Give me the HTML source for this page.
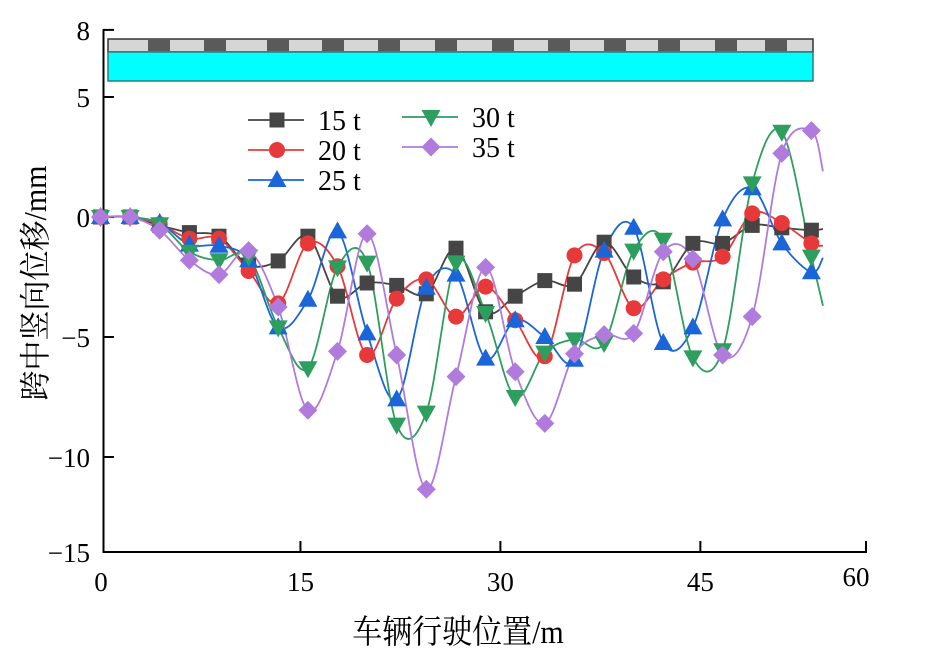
<!DOCTYPE html>
<html><head><meta charset="utf-8"><style>
body{margin:0;background:#fff}
svg text{font-family:"Liberation Serif","Noto Serif CJK SC",serif;fill:#000}
</style></head><body>
<svg id="chart" width="931" height="659" viewBox="0 0 931 659" xmlns="http://www.w3.org/2000/svg">
<g id="bridge">
<rect x="108" y="39" width="705" height="13" fill="#d6d6d6" stroke="#333" stroke-width="1.5"/>
<rect x="108" y="52" width="705" height="29" fill="#00ffff" stroke="#2a7d7d" stroke-width="1.5"/>
</g>
<g id="axes"></g>
<g id="series"></g>
<g id="legend"></g>
<text x="458" y="643" font-size="30" text-anchor="middle" transform="translate(458,643) scale(1,1.1) translate(-458,-643)">车辆行驶位置/m</text>
<text transform="translate(46,283) rotate(-90) scale(1,1.05)" font-size="30" text-anchor="middle">跨中竖向位移/mm</text>
</svg>
<script>
const NS="http://www.w3.org/2000/svg";
const xPositions=[0,2.22,4.44,6.67,8.89,11.11,13.33,15.56,17.78,20,22.22,24.44,26.67,28.89,31.11,33.33,35.56,37.78,40,42.22,44.44,46.67,48.89,51.11,53.33];
const tailX=54.2;
const seriesNames=["15 t","20 t","25 t","30 t","35 t"];
const s15=[0,0,-0.35,-0.65,-0.8,-2.0,-1.83,-0.8,-3.3,-2.75,-2.85,-3.2,-1.3,-3.95,-3.3,-2.65,-2.8,-1.05,-2.5,-2.7,-1.1,-1.1,-0.35,-0.45,-0.55];
const s20=[0,0,-0.3,-0.9,-0.9,-2.25,-3.6,-1.1,-2.05,-5.75,-3.4,-2.6,-4.15,-2.9,-4.3,-5.8,-1.6,-1.5,-3.8,-2.6,-1.9,-1.65,0.15,-0.25,-1.1];
const s25=[0,0,-0.25,-1.15,-1.2,-1.8,-4.6,-3.45,-0.6,-4.85,-7.6,-2.95,-2.4,-5.9,-4.3,-5.0,-5.95,-1.4,-0.45,-5.25,-4.6,-0.1,1.2,-1.1,-2.3];
const s30=[0,0,-0.3,-1.45,-1.8,-1.65,-4.6,-6.3,-2.1,-1.9,-8.65,-8.15,-1.9,-4.0,-7.5,-5.65,-5.1,-5.25,-1.4,-0.95,-5.85,-5.55,1.4,3.55,-1.65];
const s35=[0,0,-0.55,-1.8,-2.4,-1.4,-3.75,-8.05,-5.6,-0.7,-5.75,-11.7,-6.65,-2.1,-6.45,-8.6,-5.7,-4.9,-4.85,-1.45,-1.75,-5.75,-4.15,2.65,3.6];
const tails=[-0.5,-1.2,-1.7,-3.7,1.9];
const yTickVals=[8,5,0,-5,-10,-15];
const xTickVals=[0,15,30,45,60];
const colors=["#454545","#e8393a","#1a66d9","#2e9e5e","#b07bdc"];
const markers=["square","circle","up","down","diamond"];
const seriesData=[s15,s20,s25,s30,s35];

function X(v){ if(v>=57.2) return 866; return 100.5+13.33*v; }
function Y(v){ if(v<=-10) return 457+(-10-v)*19; if(v>5) return 98-(v-5)*22.7; return 217-24*v; }

const axes=document.getElementById('axes');
function el(tag,attrs,parent){const e=document.createElementNS(NS,tag);for(const k in attrs)e.setAttribute(k,attrs[k]);parent.appendChild(e);return e;}
let a=el('line',{x1:103.5,y1:29,x2:103.5,y2:553,stroke:'#000','stroke-width':2},axes);


a=el('line',{x1:103,y1:552,x2:867,y2:552,stroke:'#000','stroke-width':2},axes);


yTickVals.forEach(v=>{
  const y=Y(v);
  if(v!==-15){const t=el('line',{x1:103,y1:y,x2:114,y2:y,stroke:'#000','stroke-width':2},axes);
  
  }
  const tx=el('text',{x:90,y:y+10,'font-size':27,'text-anchor':'end'},axes);
  
  
  tx.textContent=v<0?'\u2212'+(-v):String(v);
});
xTickVals.forEach(v=>{
  const x=v===60?866:X(v);
  if(v!==0){const t=el('line',{x1:x,y1:552,x2:x,y2:541,stroke:'#000','stroke-width':2},axes);
  
  }
  const tx=el('text',{x:v===0?101:(v===60?856:x),y:v===60?586:591,'font-size':27,'text-anchor':'middle'},axes);
  
  
  tx.textContent=String(v);
});
const bridge=document.getElementById('bridge');
const blockStarts=[148,204,267,322,378,435,492,548,604,658,715,765];
blockStarts.forEach(b=>{const r=el('rect',{x:b,y:40,width:22,height:11,fill:'#5a5a5a'},bridge);

});

function marker(type,cx,cy,color,parent){
  let m;
  if(type==='square') m=el('rect',{x:cx-7.5,y:cy-7.5,width:15,height:15,fill:color},parent);
  else if(type==='circle') m=el('circle',{cx:cx,cy:cy,r:8,fill:color},parent);
  else if(type==='up') m=el('polygon',{points:`${cx},${cy-10} ${cx-9.5},${cy+7} ${cx+9.5},${cy+7}`,fill:color},parent);
  else if(type==='down') m=el('polygon',{points:`${cx},${cy+10} ${cx-9.5},${cy-7} ${cx+9.5},${cy-7}`,fill:color},parent);
  else m=el('polygon',{points:`${cx},${cy-9.5} ${cx+9.5},${cy} ${cx},${cy+9.5} ${cx-9.5},${cy}`,fill:color},parent);
  return m;
}
function spline(pts){
  let d=`M${pts[0][0]},${pts[0][1]}`;
  for(let i=0;i<pts.length-1;i++){
    const p0=pts[Math.max(0,i-1)],p1=pts[i],p2=pts[i+1],p3=pts[Math.min(pts.length-1,i+2)];
    const c1=[p1[0]+(p2[0]-p0[0])/6,p1[1]+(p2[1]-p0[1])/6];
    const c2=[p2[0]-(p3[0]-p1[0])/6,p2[1]-(p3[1]-p1[1])/6];
    d+=` C${c1[0]},${c1[1]} ${c2[0]},${c2[1]} ${p2[0]},${p2[1]}`;
  }
  return d;
}
const sg=document.getElementById('series');
seriesData.forEach((data,si)=>{
  const g=el('g',{},sg);
  
  
  const pts=data.map((v,i)=>[X(xPositions[i]),Y(v)]);
  pts.push([X(tailX),Y(tails[si])]);
  const p=el('path',{d:spline(pts),fill:'none',stroke:colors[si],'stroke-width':1.8},g);
  
  
});
seriesData.forEach((data,si)=>{
  const g=el('g',{},sg);
  
  
  data.forEach((v,i)=>{const m=marker(markers[si],X(xPositions[i]),Y(v),colors[si],g);
  
  });
});
const lg=document.getElementById('legend');
const legendPos=[[248,120],[248,150],[248,180],[402,117],[402,147]];
seriesNames.forEach((n,i)=>{
  const [lx,ly]=legendPos[i];
  const g=el('g',{},lg);
  
  
  el('line',{x1:lx,y1:ly,x2:lx+56,y2:ly,stroke:colors[i],'stroke-width':1.8},g);
  marker(markers[i],lx+29,ly,colors[i],g);
  const t=el('text',{x:lx+70,y:ly+10,'font-size':28},g);
  
  
  t.textContent=n;
});
</script>
</body></html>
